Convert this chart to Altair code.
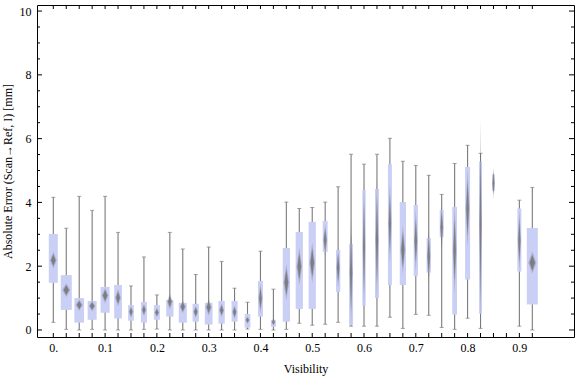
import altair as alt
import pandas as pd

# ---------------- data ----------------
visibility = [0.0, 0.025, 0.05, 0.075, 0.1, 0.125, 0.15, 0.175, 0.2, 0.225,
              0.25, 0.275, 0.3, 0.325, 0.35, 0.375, 0.4, 0.425, 0.45, 0.475,
              0.5, 0.525, 0.55, 0.575, 0.6, 0.625, 0.65, 0.675, 0.7, 0.725,
              0.75, 0.775, 0.8, 0.825, 0.85, 0.9, 0.925]
whisker_low = [0.24, 0.02, 0.0, 0.02, 0.0, 0.0, 0.0, 0.02, 0.03, 0.0,
               0.0, 0.0, 0.0, 0.0, 0.0, 0.03, 0.02, 0.0, 0.02, 0.21,
               0.15, 0.18, 0.24, 0.12, 0.12, 0.12, 0.40, 0.05, 0.49, 0.46,
               0.08, 0.02, 0.37, 0.05, 4.37, 0.12, 0.0]
quartile_1 = [1.48, 0.63, 0.23, 0.32, 0.54, 0.36, 0.29, 0.23, 0.32, 0.42,
              0.23, 0.26, 0.17, 0.20, 0.26, 0.07, 0.42, 0.10, 0.26, 0.66,
              0.66, 2.45, 1.19, 0.16, 0.76, 1.00, 1.41, 1.41, 1.69, 1.80,
              2.92, 0.48, 1.58, 0.51, 4.37, 1.83, 0.80]
median = [2.19, 1.25, 0.78, 0.75, 1.08, 1.01, 0.57, 0.63, 0.55, 0.89,
          0.73, 0.57, 0.71, 0.62, 0.56, 0.31, 0.99, 0.25, 1.50, 1.99,
          2.11, 2.82, 1.95, 1.80, 2.61, 2.82, 3.34, 2.51, 2.80, 2.30,
          3.22, 2.51, 3.81, 3.30, 4.60, 2.80, 2.11]
quartile_3 = [3.01, 1.72, 1.00, 0.91, 1.35, 1.41, 0.78, 0.88, 0.78, 0.94,
              0.85, 0.82, 0.85, 0.91, 0.91, 0.50, 1.54, 0.32, 2.57, 3.07,
              3.39, 3.42, 2.51, 2.70, 4.39, 4.42, 5.20, 4.01, 3.92, 2.88,
              3.76, 3.86, 5.11, 5.29, 4.88, 3.81, 3.20]
whisker_high = [4.16, 3.19, 4.19, 3.75, 4.19, 3.06, 1.38, 2.29, 1.10, 3.06,
                2.54, 1.74, 2.60, 2.15, 1.31, 0.87, 2.47, 1.28, 4.01, 3.81,
                3.84, 4.01, 4.49, 5.51, 5.20, 5.51, 6.01, 5.29, 5.16, 4.85,
                4.25, 5.22, 5.79, 5.54, 4.88, 4.07, 4.47]
median_spread = [0.22, 0.18, 0.15, 0.14, 0.20, 0.22, 0.16, 0.16, 0.13, 0.21,
                 0.17, 0.16, 0.22, 0.18, 0.18, 0.10, 0.39, 0.10, 0.47, 0.49,
                 0.52, 0.42, 0.52, 1.40, 1.70, 1.60, 1.05, 0.63, 0.80, 0.73,
                 0.60, 1.15, 1.00, 2.75, 0.42, 0.80, 0.29]
box_weight = [0.82, 1.00, 0.88, 0.82, 0.82, 0.70, 0.52, 0.55, 0.55, 0.66,
              0.73, 0.57, 0.70, 0.57, 0.55, 0.52, 0.45, 0.45, 0.66, 0.66,
              0.66, 0.45, 0.39, 0.36, 0.30, 0.36, 0.36, 0.57, 0.39, 0.39,
              0.36, 0.43, 0.45, 0.27, 0.25, 0.36, 1.00]

x_tick_positions = [0.0, 0.025, 0.05, 0.075, 0.1, 0.125, 0.15, 0.175, 0.2, 0.225,
                    0.25, 0.275, 0.3, 0.325, 0.35, 0.375, 0.4, 0.425, 0.45, 0.475,
                    0.5, 0.525, 0.55, 0.575, 0.6, 0.625, 0.65, 0.675, 0.7, 0.725,
                    0.75, 0.775, 0.8, 0.825, 0.85, 0.875, 0.9, 0.925]
x_label_values = [0.0, 0.1, 0.2, 0.3, 0.4, 0.5, 0.6, 0.7, 0.8, 0.9]
y_major_ticks = [0, 2, 4, 6, 8, 10]
y_minor_ticks = [0.5, 1, 1.5, 2.5, 3, 3.5, 4.5, 5, 5.5, 6.5, 7, 7.5,
                 8.5, 9, 9.5]

# ---------------- layout / style ----------------
W, H = 537, 332
XDOM = [-0.0315, 1.0055]
YDOM = [-0.22, 10.19]
PX_PER_UNIT = W / (XDOM[1] - XDOM[0])
MAX_BOX_PX = 11.0
FONT = "Liberation Serif"
BOX_COLOR = "#c9cff5"
WHISKER_COLOR = "#7a7a7a"
DIAMOND_COLOR = "#6e6e6e"

xs = alt.Scale(domain=XDOM, nice=False, zero=False)
ys = alt.Scale(domain=YDOM, nice=False, zero=False)

label_expr = "datum.value == 0 ? '0.' : format(datum.value, '.1f')"
X_AXIS = alt.Axis(
    values=x_label_values, labelExpr=label_expr, ticks=False, domain=False,
    grid=False, title="Visibility", labelFont=FONT, labelFontSize=12,
    labelColor="black", labelPadding=5, titleFont=FONT, titleFontSize=12,
    titleFontWeight="normal", titleColor="black", titlePadding=10,
    labelFlush=False)
Y_AXIS = alt.Axis(
    values=y_major_ticks, ticks=False, domain=False, grid=False,
    title="Absolute Error (Scan\u2192Ref, I) [mm]", labelFont=FONT,
    labelFontSize=12, labelColor="black", labelPadding=6, titleFont=FONT,
    titleFontSize=12, titleFontWeight="normal", titleColor="black",
    titlePadding=5, labelFlush=False)


def X(field, **kw):
    return alt.X(field, scale=xs, axis=X_AXIS, **kw)


def Y(field, **kw):
    return alt.Y(field, scale=ys, axis=Y_AXIS, **kw)


df = pd.DataFrame({
    "vis": visibility, "wmin": whisker_low, "q1": quartile_1, "med": median,
    "q3": quartile_3, "wmax": whisker_high, "spread": median_spread,
    "weight": box_weight,
})
df["hw"] = df["weight"] * MAX_BOX_PX / 2 / PX_PER_UNIT
df["xl"] = df["vis"] - df["hw"]
df["xr"] = df["vis"] + df["hw"]


def diamond_rows(scale_w, scale_h):
    rows = []
    for i, r in df.iterrows():
        dw = (r["hw"] * 0.5 + 0.25 / PX_PER_UNIT) * scale_w
        dh = r["spread"] * scale_h
        rows.append({"id": i, "y": r["med"] - dh, "l": r["vis"], "r": r["vis"]})
        rows.append({"id": i, "y": r["med"], "l": r["vis"] - dw, "r": r["vis"] + dw})
        rows.append({"id": i, "y": r["med"] + dh, "l": r["vis"], "r": r["vis"]})
    return pd.DataFrame(rows)


base = alt.Chart(df)

whiskers = base.mark_rule(color=WHISKER_COLOR, strokeWidth=1.1).encode(
    x=X("vis:Q"), y=Y("wmin:Q"), y2="wmax:Q",
)
caps_hi = base.transform_filter("datum.wmax > datum.q3").mark_tick(
    orient="horizontal", size=4, thickness=1, color=WHISKER_COLOR
).encode(x=X("vis:Q"), y=Y("wmax:Q"))
caps_lo = base.transform_filter("datum.wmin < datum.q1").mark_tick(
    orient="horizontal", size=4, thickness=1, color=WHISKER_COLOR
).encode(x=X("vis:Q"), y=Y("wmin:Q"))

boxes = base.mark_rect(color=BOX_COLOR).encode(
    x=X("xl:Q"), x2="xr:Q", y=Y("q1:Q"), y2="q3:Q",
)


def diamond_layer(sw, sh, op):
    return alt.Chart(diamond_rows(sw, sh)).mark_area(
        orient="horizontal", color=DIAMOND_COLOR, opacity=op
    ).encode(
        y=Y("y:Q"), x=X("l:Q", stack=None), x2="r:Q", detail="id:N",
    )


diamonds_outer = diamond_layer(1.35, 1.2, 0.3)
diamonds_inner = diamond_layer(0.9, 0.85, 0.75)

ymaj = pd.DataFrame({"v": y_major_ticks})
ymin = pd.DataFrame({"v": y_minor_ticks})
xt = pd.DataFrame({"v": x_tick_positions})
tick_color = "black"


def yrule(data, x0, x1):
    return alt.Chart(data).mark_rule(color=tick_color, strokeWidth=1).encode(
        y=Y("v:Q"), x=alt.value(x0), x2=alt.value(x1))


def xrule(y0, y1):
    return alt.Chart(xt).mark_rule(color=tick_color, strokeWidth=1).encode(
        x=X("v:Q"), y=alt.value(y0), y2=alt.value(y1))


frame_ticks = [
    yrule(ymaj, 0, 5), yrule(ymin, 0, 3),
    yrule(ymaj, W - 5, W), yrule(ymin, W - 3, W),
    xrule(H - 4, H), xrule(0, 4),
]

chart = alt.layer(
    whiskers, caps_hi, caps_lo, boxes, diamonds_outer, diamonds_inner,
    *frame_ticks
).properties(
    width=W, height=H,
    autosize=alt.AutoSizeParams(type="none"),
    padding={"left": 37, "top": 5, "right": 2, "bottom": 40},
).configure_view(stroke="black", strokeWidth=1)

chart.save("out.html", embed_options={"renderer": "svg", "actions": False})
